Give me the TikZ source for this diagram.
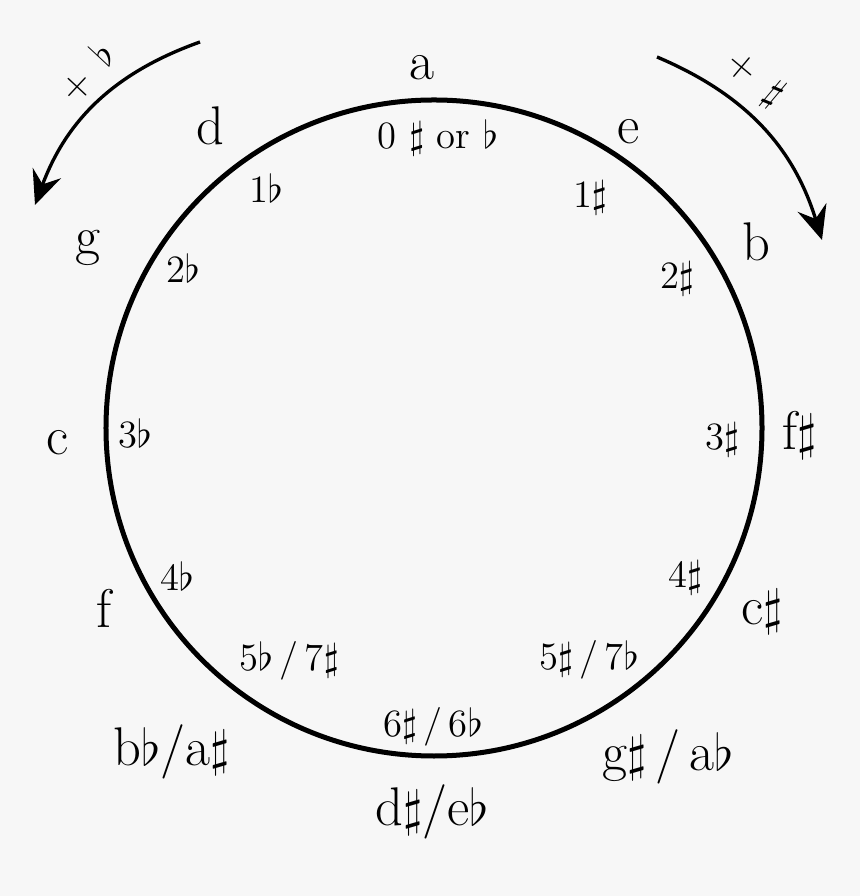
\documentclass[tikz,border=0pt]{standalone}
\usepackage{amsmath}
\usetikzlibrary{arrows.meta}
\definecolor{paper}{RGB}{247,247,247}
\tikzset{
    keylabel/.style={font=\fontsize{15.5}{18}\selectfont, inner sep=0pt},
    countlabel/.style={font=\fontsize{11}{13}\selectfont, inner sep=0pt},
    turnarrow/.style={line width=0.95pt, -{Stealth[length=0.34cm, width=0.3cm, inset=0.12cm]}},
}
\begin{document}
\begin{tikzpicture}
    \fill[paper] (-4.34,-4.68) rectangle (4.26,4.28);

    % the circle
    \draw[line width=0.05cm] (0,0) circle (3.28);

    % keys outside the circle
    \node[keylabel] (keyA)  at (-0.12, 3.60) {a};
    \node[keylabel] (keyE)  at (1.95, 2.96)  {e};
    \node[keylabel] (keyB)  at (3.22, 1.86)  {b};
    \node[keylabel] (keyFs) at (3.66, -0.07) {f$\sharp$};
    \node[keylabel] (keyCs) at (3.28, -1.84) {c$\sharp$};
    \node[keylabel] (keyGs) at (2.34, -3.29) {g$\sharp$\,/\,a$\flat$};
    \node[keylabel] (keyDs) at (-0.02, -3.84) {d$\sharp$/e$\flat$};
    \node[keylabel] (keyBb) at (-2.62, -3.24) {b$\flat$/a$\sharp$};
    \node[keylabel] (keyF)  at (-3.30, -1.80) {f};
    \node[keylabel] (keyC)  at (-3.76, -0.15) {c};
    \node[keylabel] (keyG)  at (-3.46, 1.80)  {g};
    \node[keylabel] (keyD)  at (-2.24, 3.02)  {d};

    % number of sharps or flats inside
    \node[countlabel] (cntZero) at (0.04, 2.90)   {0 $\sharp$ or $\flat$};
    \node[countlabel] (cntOneS) at (1.56, 2.30)   {1$\sharp$};
    \node[countlabel] (cntTwoS) at (2.43, 1.49)   {2$\sharp$};
    \node[countlabel] (cntThrS) at (2.88, -0.12)  {3$\sharp$};
    \node[countlabel] (cntFouS) at (2.51, -1.50)  {4$\sharp$};
    \node[countlabel] (cntFivS) at (1.55, -2.32)  {5$\sharp$\,/\,7$\flat$};
    \node[countlabel] (cntSix)  at (-0.01, -2.99) {6$\sharp$\,/\,6$\flat$};
    \node[countlabel] (cntFivF) at (-1.45, -2.33) {5$\flat$\,/\,7$\sharp$};
    \node[countlabel] (cntFouF) at (-2.57, -1.48) {4$\flat$};
    \node[countlabel] (cntThrF) at (-2.99, -0.05) {3$\flat$};
    \node[countlabel] (cntTwoF) at (-2.51, 1.60)  {2$\flat$};
    \node[countlabel] (cntOneF) at (-1.68, 2.40)  {1$\flat$};

    % turning arrows
    \coordinate (flatFrom)  at (-2.34, 3.86);
    \coordinate (flatTo)    at (-3.99, 2.23);
    \coordinate (sharpFrom) at (2.23, 3.71);
    \coordinate (sharpTo)   at (3.88, 1.88);
    \draw[turnarrow] (flatFrom) to[bend right=25] (flatTo);
    \draw[turnarrow] (sharpFrom) to[bend left=25] (sharpTo);
    \node[countlabel, rotate=47]  (addFlat)  at (-3.47, 3.56) {+\enspace$\flat$};
    \node[countlabel, rotate=-40] (addSharp) at (3.21, 3.49)  {+\enspace$\sharp$};
\end{tikzpicture}
\end{document}
